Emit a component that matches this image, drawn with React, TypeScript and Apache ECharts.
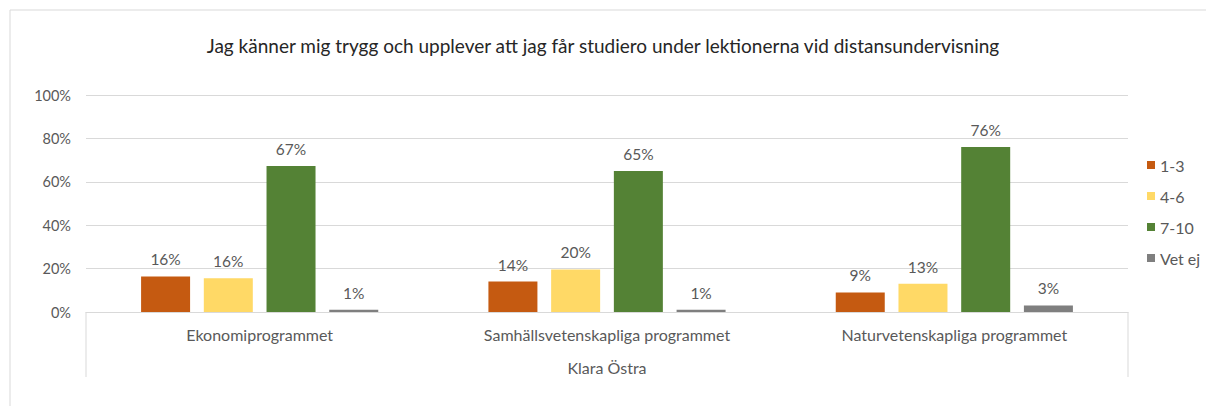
import React, { useEffect, useRef } from "react";
import * as echarts from "echarts";

const title = "Jag känner mig trygg och upplever att jag får studiero under lektionerna vid distansundervisning";
const categories = ["Ekonomiprogrammet", "Samhällsvetenskapliga programmet", "Naturvetenskapliga programmet"];
const groupLabel = "Klara Östra";
const seriesNames = ["1-3", "4-6", "7-10", "Vet ej"];
const s13 = [16.4, 14, 9];
const s46 = [15.6, 19.6, 13];
const s710 = [67.3, 65, 76];
const sVetEj = [1, 1, 3];
const yTicks = [0, 20, 40, 60, 80, 100];
const colors = ["#C55A11", "#FFD966", "#548235", "#7F7F7F"];

const FONT = "Lato, 'Open Sans', sans-serif";
const TXT = "#595959";

export default function App() {
  const ref = useRef<HTMLDivElement>(null);
  useEffect(() => {
    document.body.style.margin = "0";
    const chart = echarts.init(ref.current!, null, { renderer: "svg" });
    const values = [s13, s46, s710, sVetEj];
    const gridLeft = 86, gridRight = 78, gridTop = 95, gridBottom = 94;
    const axisY = 406 - gridBottom;
    chart.setOption({
      animation: false,
      backgroundColor: "#ffffff",
      textStyle: { fontFamily: FONT },
      title: {
        text: title,
        left: "center",
        top: 31,
        textStyle: { fontFamily: FONT, fontSize: 19, fontWeight: "normal", color: "#262626" },
      },
      legend: {
        orient: "vertical",
        left: 1147,
        top: 157,
        padding: 0,
        itemWidth: 8,
        itemHeight: 8,
        itemGap: 15,
        icon: "rect",
        data: seriesNames,
        textStyle: { fontFamily: FONT, fontSize: 16, color: TXT },
      },
      grid: { left: gridLeft, right: gridRight, top: gridTop, bottom: gridBottom },
      xAxis: {
        type: "category",
        data: categories,
        axisLine: { show: true, lineStyle: { color: "#d9d9d9", width: 1 } },
        axisTick: { show: false },
        axisLabel: { fontFamily: FONT, fontSize: 16, color: TXT, margin: 14 },
      },
      yAxis: {
        type: "value",
        min: yTicks[0],
        max: yTicks[yTicks.length - 1],
        interval: 20,
        axisLine: { show: false },
        axisTick: { show: false },
        splitLine: { lineStyle: { color: "#d9d9d9", width: 1 } },
        axisLabel: { fontFamily: FONT, fontSize: 14.5, color: TXT, margin: 15, formatter: "{value}%" },
      },
      series: seriesNames.map((name, i) => ({
        name,
        type: "bar",
        data: values[i],
        barWidth: 49,
        barGap: "28%",
        itemStyle: { color: colors[i] },
        label: {
          show: true,
          position: "top",
          distance: 9,
          fontFamily: FONT,
          fontSize: 15.5,
          color: TXT,
          formatter: (p: any) => Math.round(p.value) + "%",
        },
      })),
      graphic: [
        {
          type: "rect",
          shape: { x: 10, y: 10, width: 1400, height: 600 },
          style: { fill: "none", stroke: "#d9d9d9", lineWidth: 1 },
          silent: true,
        },
        {
          type: "line",
          shape: { x1: gridLeft, y1: axisY, x2: gridLeft, y2: 377 },
          style: { stroke: "#d9d9d9", lineWidth: 1 },
        },
        {
          type: "line",
          shape: { x1: 1206 - gridRight, y1: axisY, x2: 1206 - gridRight, y2: 377 },
          style: { stroke: "#d9d9d9", lineWidth: 1 },
        },
        {
          type: "text",
          x: 607,
          y: 367,
          style: { text: groupLabel, fontFamily: FONT, fontSize: 16, fill: TXT, align: "center", verticalAlign: "middle" },
        },
      ],
    });
    return () => chart.dispose();
  }, []);
  return <div ref={ref} style={{ width: 1206, height: 406 }} />;
}
